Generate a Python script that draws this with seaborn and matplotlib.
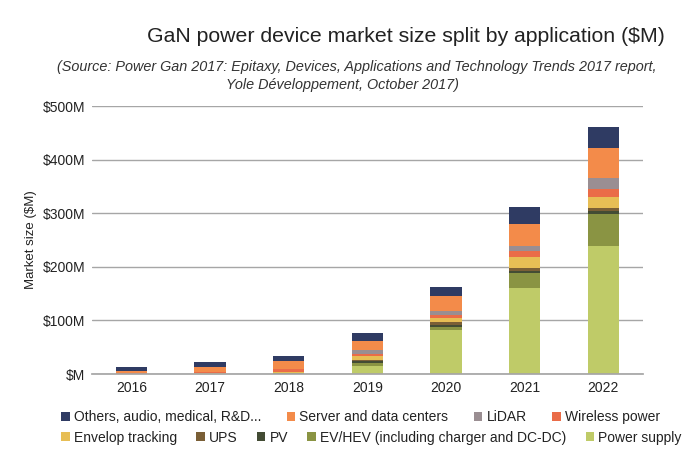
import matplotlib
matplotlib.use("Agg")
import matplotlib.pyplot as plt
import seaborn as sns
import numpy as np
from matplotlib.patches import Patch

years = ["2016", "2017", "2018", "2019", "2020", "2021", "2022"]

# values in $M, bottom to top of stack
power_supply = [0.3, 0.3, 0.5, 16, 83, 160, 239]
ev_hev       = [0.2, 0.3, 1.0, 5, 5, 28, 60]
pv           = [0.1, 0.2, 0.5, 4, 4, 5, 6]
ups          = [0.1, 0.2, 0.5, 2, 5, 5, 5]
envelop      = [0.3, 0.5, 2.0, 6, 8, 20, 20]
wireless     = [1.0, 2.0, 5.0, 5, 6, 12, 16]
lidar        = [0.0, 0.5, 0.5, 7, 7, 8, 19]
server       = [4.5, 9.0, 14.0, 17, 27, 42, 56]
others       = [7.0, 9.0, 10.0, 14, 18, 31, 40]

series = [
    ("Power supply", power_supply, "#BFCB68"),
    ("EV/HEV (including charger and DC-DC)", ev_hev, "#8A9443"),
    ("PV", pv, "#434C34"),
    ("UPS", ups, "#7A5F36"),
    ("Envelop tracking", envelop, "#E7BE55"),
    ("Wireless power", wireless, "#EA6C48"),
    ("LiDAR", lidar, "#9A8E92"),
    ("Server and data centers", server, "#F38B4A"),
    ("Others, audio, medical, R&D...", others, "#2F3B63"),
]

sns.set_theme(style="white")
plt.rcParams["font.family"] = ["Liberation Sans", "DejaVu Sans"]

fig = plt.figure(figsize=(6.97, 4.63), dpi=100)
ax = fig.add_axes([0.132, 0.192, 0.79, 0.579])

cum = np.zeros(len(years))
colors = {}
for name, vals, col in series:
    sns.barplot(x=years, y=vals, bottom=cum, color=col, width=0.4,
                ax=ax, saturation=1, linewidth=0)
    cum = cum + np.array(vals)
    colors[name] = col

ax.set_ylim(0, 500)
ax.set_xlim(-0.5, 6.5)
ax.set_yticks([0, 100, 200, 300, 400, 500])
ax.set_yticklabels(["$M", "$100M", "$200M", "$300M", "$400M", "$500M"])
ax.yaxis.grid(True, color="#A6A6A6", linewidth=1)
ax.set_axisbelow(True)
for s in ["left", "right", "top"]:
    ax.spines[s].set_visible(False)
ax.spines["bottom"].set_color("#A6A6A6")
ax.tick_params(axis="both", labelsize=10, colors="#222222", length=0, pad=5)
ax.set_ylabel("Market size ($M)", fontsize=9.5, color="#222222", labelpad=4)
ax.set_xlabel("")

fig.text(0.582, 0.922, "GaN power device market size split by application ($M)",
         ha="center", va="center", fontsize=15.3, color="#222222")
fig.text(0.512, 0.855,
         "(Source: Power Gan 2017: Epitaxy, Devices, Applications and Technology Trends 2017 report,",
         ha="center", va="center", fontsize=10.4, style="italic", color="#333333")
fig.text(0.492, 0.816, "Yole Développement, October 2017)",
         ha="center", va="center", fontsize=10.4, style="italic", color="#333333")

row1 = ["Others, audio, medical, R&D...", "Server and data centers", "LiDAR", "Wireless power"]
row2 = ["Envelop tracking", "UPS", "PV", "EV/HEV (including charger and DC-DC)", "Power supply"]

def mk(names):
    return [Patch(facecolor=colors[n], edgecolor="none") for n in names]

kw = dict(frameon=False, fontsize=10, handlelength=0.6, handleheight=0.6,
          handletextpad=0.3, borderpad=0, labelcolor="#222222")
leg1 = fig.legend(mk(row1), row1, ncol=4, loc="center left",
                  bbox_to_anchor=(0.078, 0.099), columnspacing=1.85, **kw)
leg2 = fig.legend(mk(row2), row2, ncol=5, loc="center left",
                  bbox_to_anchor=(0.078, 0.055), columnspacing=1.4, **kw)

fig.savefig("out.png", dpi=100)
